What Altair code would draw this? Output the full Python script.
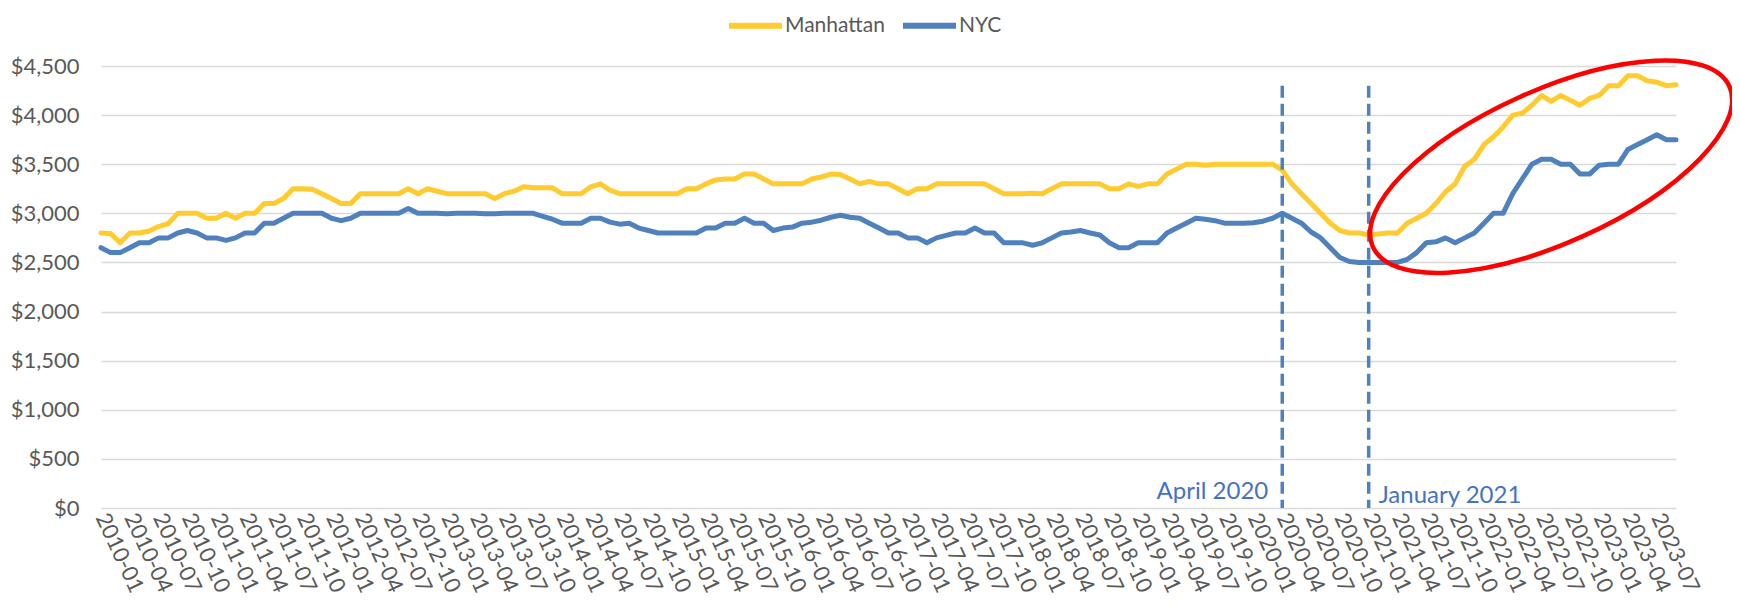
import altair as alt
import pandas as pd

# ---- categories (monthly, 2010-01 .. 2023-09) ----
months = [str(p) for p in pd.period_range("2010-01", "2023-09", freq="M")]
tick_labels = [m for m in months if m[5:] in ("01", "04", "07", "10")]

# ---- series values (median asking rent) ----
manhattan = [
    2800, 2795, 2700, 2800, 2800, 2820, 2865, 2895, 3000, 3000, 3000, 2950,
    2950, 3000, 2950, 3000, 3000, 3100, 3100, 3150, 3250, 3250, 3245, 3200,
    3150, 3100, 3100, 3200, 3200, 3200, 3200, 3200, 3250, 3200, 3250, 3225,
    3200, 3200, 3200, 3200, 3200, 3150, 3200, 3225, 3270, 3260, 3260, 3260,
    3200, 3200, 3200, 3270, 3300, 3235, 3200, 3200, 3200, 3200, 3200, 3200,
    3200, 3250, 3250, 3300, 3340, 3350, 3350, 3400, 3400, 3350, 3300, 3300,
    3300, 3300, 3350, 3370, 3400, 3395, 3350, 3300, 3325, 3300, 3300, 3250,
    3200, 3250, 3250, 3300, 3300, 3300, 3300, 3300, 3300, 3250, 3200, 3200,
    3200, 3205, 3200, 3250, 3300, 3300, 3300, 3300, 3300, 3250, 3250, 3300,
    3275, 3300, 3300, 3400, 3450, 3500, 3500, 3490, 3500, 3500, 3500, 3500,
    3500, 3500, 3500, 3440, 3300, 3200, 3100, 3000, 2900, 2825, 2800, 2800,
    2780, 2790, 2800, 2800, 2900, 2950, 3000, 3100, 3220, 3300, 3480, 3550,
    3700, 3780, 3880, 4000, 4020, 4100, 4200, 4140, 4200, 4150, 4100, 4170,
    4200, 4300, 4300, 4400, 4400, 4350, 4335, 4300, 4310,
]
nyc = [
    2650, 2600, 2600, 2650, 2700, 2700, 2750, 2750, 2800, 2825, 2800, 2750,
    2750, 2725, 2750, 2800, 2800, 2900, 2900, 2950, 3000, 3000, 3000, 3000,
    2950, 2925, 2950, 3000, 3000, 3000, 3000, 3000, 3050, 3000, 3000, 3000,
    2995, 3000, 3000, 3000, 2995, 2995, 3000, 3000, 3000, 3000, 2970, 2940,
    2900, 2900, 2900, 2950, 2950, 2910, 2890, 2900, 2850, 2825, 2800, 2800,
    2800, 2800, 2800, 2850, 2850, 2900, 2900, 2950, 2900, 2900, 2825, 2850,
    2860, 2900, 2910, 2930, 2960, 2980, 2960, 2950, 2900, 2850, 2800, 2800,
    2750, 2750, 2700, 2750, 2775, 2800, 2800, 2850, 2800, 2800, 2700, 2700,
    2700, 2675, 2700, 2750, 2800, 2810, 2825, 2800, 2780, 2700, 2650, 2650,
    2700, 2700, 2700, 2800, 2850, 2900, 2950, 2940, 2925, 2900, 2900, 2900,
    2905, 2920, 2950, 3000, 2950, 2900, 2810, 2750, 2650, 2550, 2510, 2500,
    2500, 2500, 2500, 2500, 2530, 2600, 2700, 2710, 2750, 2700, 2750, 2800,
    2900, 3000, 3000, 3200, 3350, 3500, 3550, 3550, 3500, 3500, 3400, 3400,
    3490, 3500, 3500, 3650, 3700, 3750, 3800, 3750, 3750,
]
series_names = ["Manhattan", "NYC"]
series_colors = ["#FFCB2F", "#4F81BD"]

# ---- annotations ----
event_months = ["2020-04", "2021-01"]
event_labels = ["April 2020", "January 2021"]
event_top = [4300, 4300]
event_label_y = [165, 125]
highlight_month = ["2022-08"]
highlight_value = [3475]

y_ticks = [0, 500, 1000, 1500, 2000, 2500, 3000, 3500, 4000, 4500]

df = pd.DataFrame({
    "month": months * 2,
    "value": manhattan + nyc,
    "series": ["Manhattan"] * len(months) + ["NYC"] * len(months),
})
ev = pd.DataFrame({"month": event_months, "top": event_top, "bottom": [0, 0],
                   "label": event_labels, "ly": event_label_y})
hl = pd.DataFrame({"month": highlight_month, "value": highlight_value})

FONT = "Lato"
GREY = "#595959"

def X():
    return alt.X(
        "month:O",
        scale=alt.Scale(type="point", domain=months, padding=0),
        axis=alt.Axis(values=tick_labels, labelAngle=65, labelAlign="left",
                      labelBaseline="middle", labelFontSize=22, labelFont=FONT,
                      labelColor=GREY, labelPadding=6, ticks=False, domain=False,
                      grid=False, labelOverlap=False, labelBound=False),
        title=None,
    )

def Y(field="value"):
    return alt.Y(
        f"{field}:Q",
        scale=alt.Scale(domain=[0, 4500], nice=False, zero=True),
        axis=alt.Axis(values=y_ticks, format="$,.0f", labelFontSize=22,
                      labelFont=FONT, labelColor=GREY, labelPadding=22,
                      ticks=False, domain=False, gridColor="#D9D9D9",
                      gridWidth=1.5),
        title=None,
    )

lines = alt.Chart(df).mark_line(strokeWidth=5, strokeJoin="round", strokeCap="round").encode(
    x=X(), y=Y(),
    color=alt.Color("series:N",
                    scale=alt.Scale(domain=series_names, range=series_colors),
                    legend=alt.Legend(orient="none", legendX=638, legendY=-57,
                                      direction="horizontal",
                                      symbolType="M -2 0 L 2 0",
                                      symbolSize=702, symbolStrokeWidth=6,
                                      labelFontSize=21, labelFont=FONT,
                                      labelColor=GREY, title=None,
                                      columnPadding=6, labelOffset=13)),
)

rules = alt.Chart(ev).mark_rule(strokeDash=[12, 6], strokeWidth=3.5, color="#4F81BD").encode(
    x=X(), y=Y("top"), y2="bottom:Q")

txt1 = alt.Chart(ev.iloc[[0]]).mark_text(align="right", baseline="middle", dx=-14,
                                        fontSize=24, font=FONT, color="#4472C4").encode(
    x=X(), y=Y("ly"), text="label:N")
txt2 = alt.Chart(ev.iloc[[1]]).mark_text(align="left", baseline="middle", dx=10,
                                        fontSize=24, font=FONT, color="#4472C4").encode(
    x=X(), y=Y("ly"), text="label:N")

k = 0.5523
b = 0.391
ellipse_path = (f"M 1 0 C 1 {k*b:.4f} {k} {b} 0 {b} C {-k} {b} -1 {k*b:.4f} -1 0 "
                f"C -1 {-k*b:.4f} {-k} {-b} 0 {-b} C {k} {-b} 1 {-k*b:.4f} 1 0 Z")
ell = alt.Chart(hl).mark_point(shape=ellipse_path, size=391 * 391, angle=335.8,
                               filled=False, stroke="#FF0000", strokeWidth=4.5,
                               opacity=1, dx=9).encode(x=X(), y=Y())

chart = alt.layer(lines, rules, txt1, txt2, ell).properties(
    width=1575, height=442,
    autosize=alt.AutoSizeParams(type="none"),
    padding={"left": 93, "top": 58, "right": 56, "bottom": 91},
).configure_view(stroke=None)

chart.save("out.html", embed_options={"renderer": "svg", "actions": False})
